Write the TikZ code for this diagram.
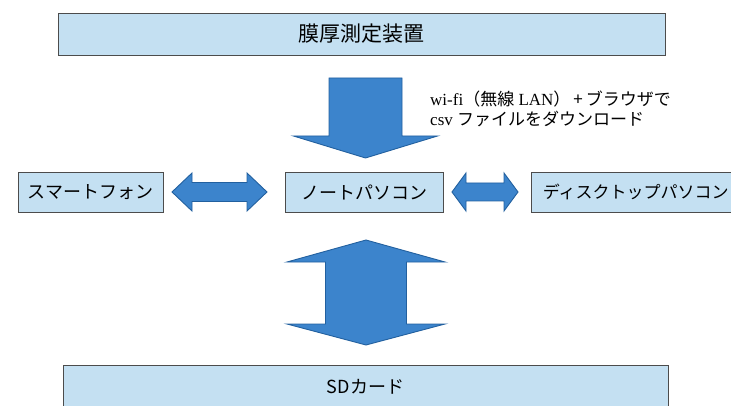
\documentclass[tikz,border=0pt]{standalone}
\usepackage{fontspec}
\usetikzlibrary{calc}
\setmainfont{Liberation Serif}
\newfontfamily\cjk{Noto Sans CJK JP}
\begin{document}
\begin{tikzpicture}[x=1pt,y=-1pt,
  box/.style={draw=black!70, line width=0.8pt, fill=boxblue, inner sep=0pt, font=\cjk\fontsize{18}{20}\selectfont},
  blockarrow/.style={fill=arrowblue, draw=arrowedge, line width=0.9pt, line join=miter}]
\definecolor{boxblue}{HTML}{C4E0F2}
\definecolor{arrowblue}{HTML}{3C84CC}
\definecolor{arrowedge}{HTML}{22609F}
\useasboundingbox (0,0) rectangle (731,406);
\clip (0,0) rectangle (731,406);
% boxes
\node[box, minimum width=607pt, minimum height=42pt, font=\cjk\fontsize{21}{24}\selectfont] (top) at (361.5,34) {膜厚測定装置};
\node[box, minimum width=145pt, minimum height=40pt] (smart) at (90.5,192) {スマートフォン};
\node[box, minimum width=158pt, minimum height=40pt] (note) at (364,192) {ノートパソコン};
\node[box, minimum width=230pt, minimum height=40pt, anchor=west, text width=218pt, align=left, inner xsep=11.5pt, font=\cjk\fontsize{17}{20}\selectfont] (desk) at (531,192) {ディスクトップパソコン};
\node[box, minimum width=605pt, minimum height=44pt, font=\cjk\fontsize{18}{20}\selectfont] (sd) at (365.5,387) {SDカード};
% label
\node[anchor=north west, align=left, inner sep=0pt, font=\fontsize{17}{19.5}\selectfont] (lbl) at (430,91)
  {wi-fi{\cjk （無線} LAN{\cjk ）\hspace{3pt}+\hspace{3pt}ブラウザで}\\csv {\cjk ファイルをダウンロード}};
% down arrow top -> note
\coordinate (dA) at (365.5,78);
\draw[blockarrow] ($(dA)+(-36.5,0)$) -- ($(dA)+(36.5,0)$) -- ($(dA)+(36.5,58)$) -- ($(dA)+(72,58)$)
  -- ($(dA)+(0,80)$) -- ($(dA)+(-72,58)$) -- ($(dA)+(-36.5,58)$) -- cycle;
% left double arrow smart <-> note
\coordinate (L) at (219.5,192);
\draw[blockarrow] ($(L)+(-47.5,0)$) -- ($(L)+(-27.5,-19)$) -- ($(L)+(-27.5,-9.5)$) -- ($(L)+(27.5,-9.5)$) -- ($(L)+(27.5,-19)$)
  -- ($(L)+(47.5,0)$) -- ($(L)+(27.5,19)$) -- ($(L)+(27.5,9.5)$) -- ($(L)+(-27.5,9.5)$) -- ($(L)+(-27.5,19)$) -- cycle;
% right double arrow note <-> desk
\coordinate (R) at (485,192);
\draw[blockarrow] ($(R)+(-33,0)$) -- ($(R)+(-19,-19)$) -- ($(R)+(-19,-9)$) -- ($(R)+(19,-9)$) -- ($(R)+(19,-19)$)
  -- ($(R)+(33,0)$) -- ($(R)+(19,19)$) -- ($(R)+(19,9)$) -- ($(R)+(-19,9)$) -- ($(R)+(-19,19)$) -- cycle;
% vertical double arrow note <-> sd
\coordinate (V) at (366,292.5);
\draw[blockarrow] ($(V)+(0,-52.5)$) -- ($(V)+(79,-30.5)$) -- ($(V)+(40.5,-30.5)$) -- ($(V)+(40.5,31.5)$) -- ($(V)+(79,31.5)$)
  -- ($(V)+(0,52.5)$) -- ($(V)+(-79,31.5)$) -- ($(V)+(-40.5,31.5)$) -- ($(V)+(-40.5,-30.5)$) -- ($(V)+(-79,-30.5)$) -- cycle;
\end{tikzpicture}
\end{document}
